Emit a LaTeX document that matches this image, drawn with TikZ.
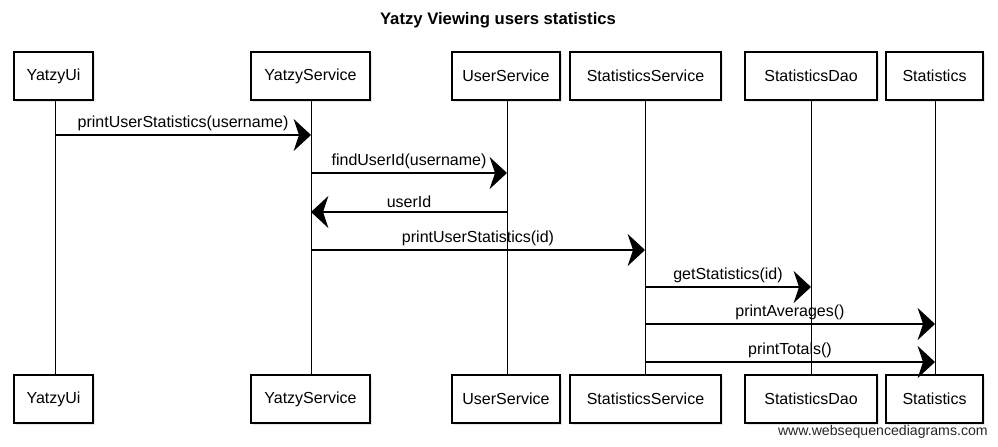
\documentclass[tikz,border=0pt]{standalone}
\usepackage{fontspec}
\setmainfont{Liberation Sans}
\usetikzlibrary{arrows.meta,calc,shadows}
\begin{document}
\begin{tikzpicture}[x=0.75pt,y=-0.75pt,
  actor/.style={draw=black, line width=0.8pt, fill=white, minimum height=36pt, inner sep=0pt,
    font=\fontsize{12}{14}\selectfont,
    drop shadow={opacity=0.2, shadow xshift=1.2pt, shadow yshift=-1.2pt}},
  life/.style={line width=0.6pt},
  msg/.style={line width=0.9pt, -{Stealth[length=13pt,width=24pt,inset=4pt]}},
  lbl/.style={font=\fontsize{12}{14}\selectfont, inner sep=0pt, above=3pt}
]
\useasboundingbox (0,0) rectangle (998,446);

\node[font=\bfseries\fontsize{12.5}{14}\selectfont] (title) at (498,20) {Yatzy Viewing users statistics};

% lifelines
\coordinate (uiT) at (55,100);  \coordinate (uiL) at (55,376);
\coordinate (ysT) at (311,100); \coordinate (ysL) at (311,376);
\coordinate (usT) at (507,100); \coordinate (usL) at (507,376);
\coordinate (ssT) at (645,100); \coordinate (ssL) at (645,376);
\coordinate (sdT) at (811,100); \coordinate (sdL) at (811,376);
\coordinate (stT) at (935,100); \coordinate (stL) at (935,376);
\draw[life] (uiT) -- (uiL);
\draw[life] (ysT) -- (ysL);
\draw[life] (usT) -- (usL);
\draw[life] (ssT) -- (ssL);
\draw[life] (sdT) -- (sdL);
\draw[life] (stT) -- (stL);

% top actors
\node[actor, minimum width=59.25pt]  (ui)  at (53.5,76) {YatzyUi};
\node[actor, minimum width=89.25pt]  (ys)  at (310.5,76) {YatzyService};
\node[actor, minimum width=81pt]     (us)  at (506,76) {UserService};
\node[actor, minimum width=113.25pt] (ss)  at (645.5,76) {StatisticsService};
\node[actor, minimum width=99pt]     (sd)  at (811,76) {StatisticsDao};
\node[actor, minimum width=72.75pt]  (st)  at (934.5,76) {Statistics};

% bottom actors
\node[actor, minimum width=59.25pt]  (uiB) at (53.5,399) {YatzyUi};
\node[actor, minimum width=89.25pt]  (ysB) at (310.5,399) {YatzyService};
\node[actor, minimum width=81pt]     (usB) at (506,399) {UserService};
\node[actor, minimum width=113.25pt] (ssB) at (645.5,399) {StatisticsService};
\node[actor, minimum width=99pt]     (sdB) at (811,399) {StatisticsDao};
\node[actor, minimum width=72.75pt]  (stB) at (934.5,399) {Statistics};

% message points
\coordinate (m1a) at (uiT |- 0,135);  \coordinate (m1b) at (ysT |- 0,135);
\coordinate (m2a) at (ysT |- 0,173);  \coordinate (m2b) at (usT |- 0,173);
\coordinate (m3a) at (usT |- 0,212);  \coordinate (m3b) at (ysT |- 0,212);
\coordinate (m4a) at (ysT |- 0,250);  \coordinate (m4b) at (ssT |- 0,250);
\coordinate (m5a) at (ssT |- 0,287);  \coordinate (m5b) at (sdT |- 0,287);
\coordinate (m6a) at (ssT |- 0,324);  \coordinate (m6b) at (stT |- 0,324);
\coordinate (m7a) at (ssT |- 0,362);  \coordinate (m7b) at (stT |- 0,362);

\draw[msg] (m1a) -- (m1b) node[lbl, midway] {printUserStatistics(username)};
\draw[msg] (m2a) -- (m2b) node[lbl, midway] {findUserId(username)};
\draw[msg] (m3a) -- (m3b) node[lbl, midway] {userId};
\draw[msg] (m4a) -- (m4b) node[lbl, midway] {printUserStatistics(id)};
\draw[msg] (m5a) -- (m5b) node[lbl, midway] {getStatistics(id)};
\draw[msg] (m6a) -- (m6b) node[lbl, midway] {printAverages()};
\draw[msg] (m7a) -- (m7b) node[lbl, midway] {printTotals()};

\node[anchor=east, font=\fontsize{10.6}{12}\selectfont, text=black!85, inner sep=0pt] (foot) at (988,432) {www.websequencediagrams.com};
\end{tikzpicture}
\end{document}
